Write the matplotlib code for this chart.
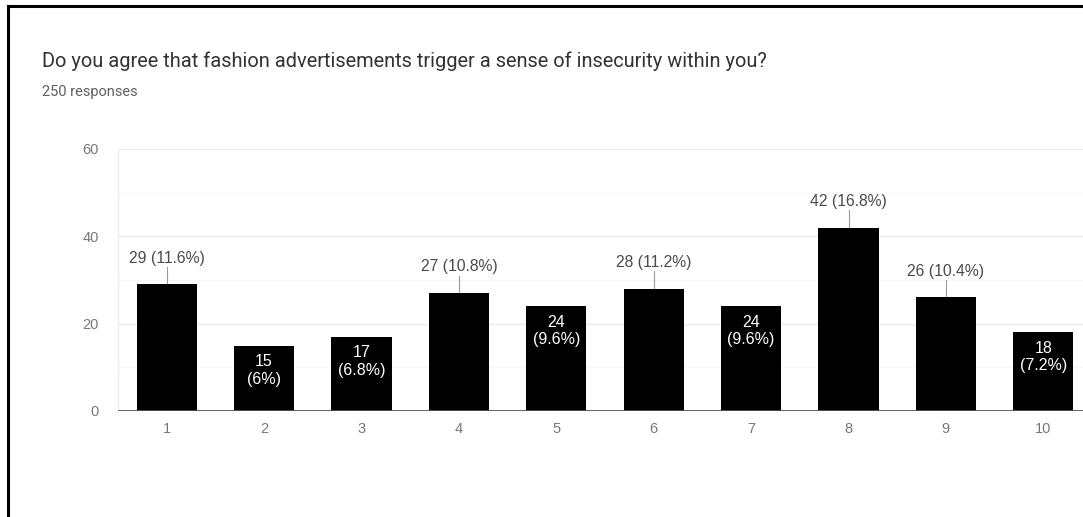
import matplotlib.pyplot as plt
from matplotlib.lines import Line2D

# survey answers, scale 1-10
ratings = ["1", "2", "3", "4", "5", "6", "7", "8", "9", "10"]
counts = [29, 15, 17, 27, 24, 28, 24, 42, 26, 18]
shares = ["11.6%", "6%", "6.8%", "10.8%", "9.6%", "11.2%", "9.6%", "16.8%", "10.4%", "7.2%"]
yticks = [0, 20, 40, 60]

title = "Do you agree that fashion advertisements trigger a sense of insecurity within you?"
subtitle = "250 responses"

W, H = 1083, 517
fig = plt.figure(figsize=(W / 100, H / 100), dpi=100)
fig.patch.set_facecolor("white")

# axes box in pixels: left 118, baseline 411, top (y=60) 149; right side runs past the edge
left, right, bottom, top = 118, 1092, 411, 149
ax = fig.add_axes([left / W, 1 - bottom / H, (right - left) / W, (bottom - top) / H])
ax.set_xlim(0.5, 10.5)
ax.set_ylim(0, 60)

x = list(range(1, len(counts) + 1))
ax.bar(x, counts, width=0.62, color="black", zorder=3)

# grid
for v in [10, 30, 50]:
    ax.axhline(v, color="#f6f6f6", lw=1, zorder=1)
for v in [20, 40, 60]:
    ax.axhline(v, color="#ebebeb", lw=1, zorder=1)
ax.axvline(0.5, color="#ebebeb", lw=1, zorder=1)
ax.axhline(0, color="#555555", lw=1.3, zorder=4)

for s in ax.spines.values():
    s.set_visible(False)
ax.set_xticks(x)
ax.set_xticklabels(ratings)
ax.set_yticks(yticks)
ax.tick_params(length=0, labelsize=10.5, labelcolor="#777777")
ax.tick_params(axis="y", pad=14)
ax.tick_params(axis="x", pad=8)
for lab in ax.get_xticklabels() + ax.get_yticklabels():
    lab.set_family("Liberation Sans")

# value labels: small bars get them inside, the rest above with a leader line
for xi, c, p in zip(x, counts, shares):
    if c <= 24:
        ax.text(xi, c - 5.7, f"{c}\n({p})", ha="center", va="center", color="white",
                fontsize=11.5, family="Liberation Sans", linespacing=1.2, zorder=5)
    else:
        ax.plot([xi, xi], [c, c + 4], color="#999999", lw=0.8, zorder=2)
        ax.text(xi, c + 6, f"{c} ({p})", ha="center", va="center", color="#4a4a4a",
                fontsize=11.3, family="Liberation Sans", zorder=5)

fig.text(42 / W, 1 - 61 / H, title, ha="left", va="center", fontsize=14.4,
         family="Roboto", color="#333333")
fig.text(42 / W, 1 - 92 / H, subtitle, ha="left", va="center", fontsize=10.5,
         family="Roboto", color="#606060")

# frame lines along the left and top edges
fig.add_artist(Line2D([8 / W, 8 / W], [0, 1 - 6 / H], transform=fig.transFigure,
                      color="black", lw=2.2))
fig.add_artist(Line2D([8 / W, 1], [1 - 6 / H, 1 - 6 / H], transform=fig.transFigure,
                      color="black", lw=2.2))

fig.savefig("out.png", dpi=100)
